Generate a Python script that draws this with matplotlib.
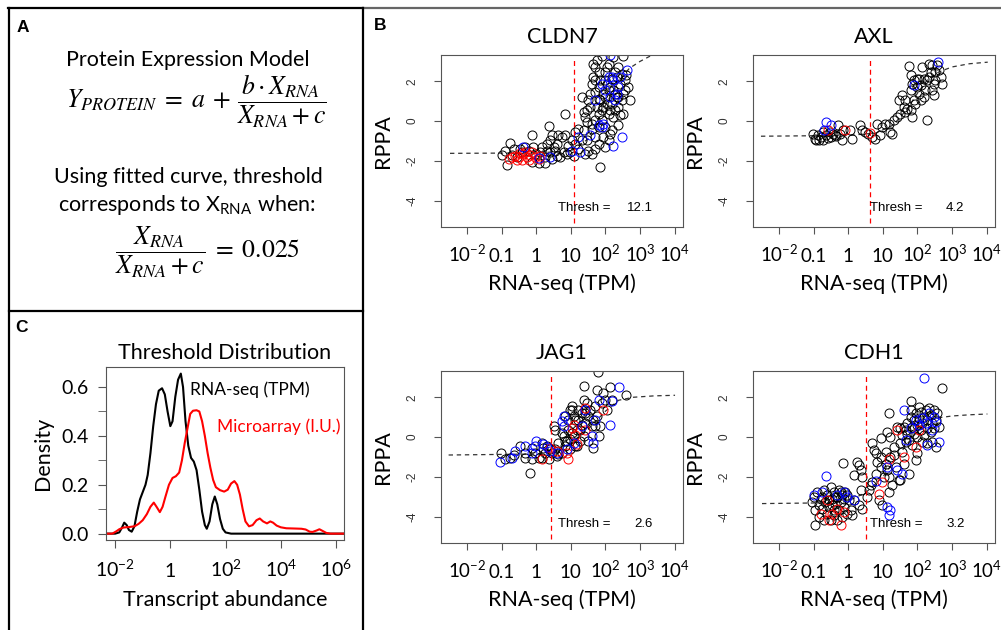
import numpy as np
import matplotlib
matplotlib.use("Agg")
import matplotlib.pyplot as plt
from matplotlib.lines import Line2D

plt.rcParams["font.family"] = ["Lato", "DejaVu Sans"]
plt.rcParams["mathtext.fontset"] = "stix"
plt.rcParams["axes.unicode_minus"] = False

W, H = 1001, 630


def fx(x):
    return x / W


def fy(y):
    return 1 - y / H


# ---- panel C: threshold density curves (log10 abundance, density) ----
rnaseq_density = [
    (-2.33, 0), (-2.0, 0), (-1.85, 0.005), (-1.75, 0.025), (-1.67, 0.045), (-1.58, 0.035),
    (-1.50, 0.015), (-1.40, 0.008), (-1.30, 0.03), (-1.20, 0.09), (-1.10, 0.14), (-1.00, 0.17),
    (-0.90, 0.20), (-0.82, 0.24), (-0.72, 0.33), (-0.62, 0.44), (-0.52, 0.53), (-0.42, 0.585),
    (-0.30, 0.595), (-0.20, 0.57), (-0.10, 0.50), (0.0, 0.44), (0.08, 0.46), (0.18, 0.56),
    (0.28, 0.63), (0.38, 0.655), (0.46, 0.60), (0.55, 0.46), (0.65, 0.36), (0.75, 0.31),
    (0.85, 0.295), (0.95, 0.26), (1.05, 0.18), (1.15, 0.09), (1.25, 0.035), (1.32, 0.02),
    (1.42, 0.05), (1.52, 0.12), (1.61, 0.152), (1.70, 0.12), (1.80, 0.06), (1.90, 0.02),
    (2.0, 0.005), (2.2, 0.0), (6.29, 0.0),
]
microarray_density = [
    (-2.33, 0), (-2.1, 0.0), (-1.95, 0.01), (-1.85, 0.018), (-1.7, 0.025), (-1.5, 0.027),
    (-1.3, 0.03), (-1.15, 0.04), (-1.0, 0.055), (-0.85, 0.08), (-0.72, 0.11), (-0.6, 0.127),
    (-0.5, 0.11), (-0.38, 0.088), (-0.28, 0.11), (-0.18, 0.15), (-0.05, 0.2), (0.08, 0.228),
    (0.2, 0.235), (0.32, 0.25), (0.42, 0.3), (0.52, 0.37), (0.62, 0.43), (0.72, 0.49),
    (0.82, 0.503), (0.95, 0.505), (1.05, 0.50), (1.15, 0.46), (1.25, 0.40), (1.35, 0.33),
    (1.45, 0.27), (1.55, 0.22), (1.65, 0.19), (1.80, 0.178), (1.95, 0.172), (2.08, 0.18),
    (2.2, 0.205), (2.32, 0.215), (2.42, 0.2), (2.52, 0.16), (2.62, 0.10), (2.72, 0.05),
    (2.85, 0.03), (2.98, 0.035), (3.12, 0.055), (3.24, 0.062), (3.36, 0.05), (3.5, 0.042),
    (3.62, 0.05), (3.72, 0.045), (3.85, 0.033), (4.0, 0.026), (4.2, 0.022), (4.5, 0.021),
    (4.75, 0.02), (4.9, 0.017), (5.05, 0.008), (5.15, 0.007), (5.3, 0.013), (5.4, 0.018),
    (5.5, 0.012), (5.65, 0.003), (5.8, 0.0), (6.29, 0.0),
]

# ---- panel B: scatter data (log10 TPM, RPPA) ----
genes = ["CLDN7", "AXL", "JAG1", "CDH1"]
thresholds = [12.1, 4.2, 2.6, 3.2]

cldn7_black = [
    (-0.99, -1.70), (-0.85, -2.22), (-0.75, -1.11), (-0.89, -1.48), (-0.65, -1.39), (-0.56, -1.82),
    (-0.41, -1.56), (-0.32, -1.31), (-0.13, -0.69), (-0.03, -1.65), (0.12, -1.56), (0.26, -1.82),
    (0.36, -0.27), (0.40, -0.97), (0.45, -0.72), (0.50, -1.31), (0.60, -1.14), (0.64, -0.72),
    (0.74, -0.81), (0.84, 0.37), (0.84, -0.72), (0.69, -1.82), (0.60, -1.73), (0.26, -2.12),
    (0.45, -1.90), (0.93, -1.23), (1.03, -0.97), (0.98, -1.56), (1.08, -1.73), (1.22, -1.39),
    (1.32, -0.97), (1.37, -0.47), (1.46, -0.97), (1.51, -1.48), (1.61, -1.65), (1.70, -1.39),
    (1.80, -1.14), (1.85, -2.32), (1.99, -1.31), (2.09, -0.97), (2.13, -0.64), (1.94, -0.81),
    (1.70, -0.81), (-0.70, -1.68), (-0.46, -1.39), (-0.22, -1.48), (-0.08, -1.31), (0.16, -1.31),
    (0.31, -1.48), (0.55, -1.48), (0.79, -1.56), (0.88, -1.65), (1.13, -1.14), (1.41, -1.65),
    (0.31, -1.14), (0.40, -1.56), (0.07, -2.12), (-0.13, -2.07), (1.22, -0.39), (1.13, -0.55),
    (1.41, 0.20), (1.46, 0.54), (1.51, 1.04), (1.56, 1.38), (1.61, 1.88), (1.65, 2.22),
    (1.70, 2.72), (1.75, 3.06), (1.80, 1.71), (1.85, 1.04), (1.89, 0.54), (1.94, 1.38),
    (1.99, 2.05), (2.04, 2.72), (2.09, 2.89), (2.13, 1.71), (2.18, 0.87), (2.23, 0.20),
    (2.28, 1.38), (2.33, 2.22), (2.37, 2.72), (2.42, 1.88), (2.47, 1.04), (2.52, 0.37),
    (2.57, 2.05), (2.59, 2.30), (2.66, 1.71), (2.37, 0.71), (2.09, 0.37), (1.80, 0.37),
    (1.70, 0.03), (1.61, -0.13), (1.89, 0.03), (1.99, -0.30), (2.18, -0.47), (2.37, -0.22),
    (1.65, 2.89), (1.89, 3.28), (2.23, 3.23), (2.52, 3.28), (1.99, 2.47), (2.28, 2.47),
    (1.80, 2.47), (1.70, 1.46), (2.04, 0.87), (2.33, 1.21), (2.47, 2.39), (2.57, 1.55),
    (2.71, 1.04), (1.80, -0.30), (1.61, -0.39), (1.99, 1.21), (2.18, 2.13), (1.85, 2.05),
    (2.09, 1.55), (1.75, 0.71), (1.94, 0.71), (2.13, 0.54), (2.28, 0.54), (2.42, 0.29),
    (1.56, 0.71), (1.80, 1.13), (2.23, 1.55), (2.37, 1.21), (2.52, 1.38), (2.04, 1.88),
    (1.70, 2.05), (1.46, -0.05), (1.37, 0.45), (1.32, 1.21),
]
cldn7_red = [
    (-0.80, -1.90), (-0.61, -1.73), (-0.51, -1.82), (-0.46, -1.61), (-0.37, -1.65), (-0.27, -1.82),
    (-0.17, -1.68), (-0.13, -1.56), (-0.03, -1.78), (0.07, -1.90), (-0.56, -1.95), (-0.41, -1.95),
    (-0.32, -1.56), (0.12, -1.73), (-0.70, -1.82), (-0.22, -1.95),
]
cldn7_blue = [
    (-0.37, -1.31), (0.07, -1.85), (0.40, -1.82), (1.03, -1.51), (1.27, -1.56), (1.22, -0.81),
    (1.56, -0.72), (1.89, 1.88), (1.99, 1.55), (2.13, 1.21), (2.23, 2.05), (2.33, 1.38),
    (2.42, 2.22), (2.09, 2.22), (2.28, 1.04), (2.37, 1.71), (1.70, 1.04), (1.80, -0.22),
    (1.89, -0.30), (1.94, -0.13), (2.18, 2.22), (2.62, 2.55), (2.47, -0.81), (2.23, -1.23),
    (2.13, 3.31),
]
cldn7_curve = [(-2.49, -1.62), (0.0, -1.6), (1.0, -1.5), (1.5, -0.9), (2.0, 0.8), (2.4, 2.05),
               (2.69, 2.65), (3.0, 3.0), (3.35, 3.32), (3.6, 3.5)]

axl_black = [
    (-1.02, -0.64), (-0.97, -0.89), (-0.92, -0.97), (-0.87, -0.72), (-0.83, -0.97), (-0.78, -0.81),
    (-0.73, -0.94), (-0.63, -0.72), (-0.58, -0.84), (-0.53, -0.55), (-0.49, -0.81), (-0.44, -0.64),
    (-0.39, -0.72), (-0.34, -0.77), (-0.29, -0.22), (-0.24, -0.64), (-0.19, -0.97), (-0.15, -0.47),
    (0.05, -0.47), (0.10, -0.89), (0.34, -0.22), (0.39, -0.47), (0.49, -0.55), (0.58, -0.64),
    (0.68, -0.81), (0.83, -0.13), (0.78, -0.89), (0.92, -0.72), (0.97, -0.30), (1.07, -0.13),
    (1.17, -0.13), (1.21, -0.55), (1.26, -0.64), (1.31, 0.03), (1.41, 0.20), (1.46, 1.04),
    (1.50, 0.37), (1.55, 1.29), (1.60, 0.71), (1.65, 0.45), (1.70, 0.62), (1.75, 2.76),
    (1.80, 2.30), (1.80, 1.55), (1.84, 0.20), (1.89, 2.07), (1.94, 0.87), (1.99, 1.71),
    (2.04, 1.38), (2.09, 1.04), (2.14, 2.72), (2.18, 1.21), (2.23, 1.55), (2.28, 0.03),
    (2.33, 2.22), (2.38, 2.47), (2.43, 1.55), (2.48, 1.88), (2.52, 2.05), (2.57, 2.81),
    (2.62, 2.55), (2.67, 2.22), (2.72, 1.88), (2.48, 1.29), (2.33, 2.89), (2.09, 1.80),
    (1.89, 1.04), (1.80, 0.54), (1.65, 1.08), (1.99, 2.13), (2.18, 2.13), (2.43, 2.81),
    (2.52, 2.47), (2.28, 2.05), (1.84, 1.88), (2.04, 2.13), (-0.73, -0.55),
]
axl_red = [(-0.58, -0.47), (-0.10, -0.47), (0.63, -0.61)]
axl_blue = [(-0.63, -0.05), (-0.49, -0.22), (-0.71, -0.47), (1.89, 1.80), (2.59, 2.97)]
axl_curve = [(-2.52, -0.76), (0.0, -0.72), (0.8, -0.6), (1.3, -0.2), (1.7, 0.6), (2.0, 1.4),
             (2.3, 2.1), (2.62, 2.47), (3.0, 2.72), (3.5, 2.88), (4.03, 2.96)]

jag1_black = [
    (-1.01, -0.82), (-0.89, -1.12), (-0.75, -1.03), (-0.65, -0.90), (-0.46, -0.45), (-0.32, -0.78),
    (-0.17, -1.78), (-0.13, -1.12), (-0.03, -0.78), (0.07, -1.03), (0.16, -0.28), (0.26, -0.78),
    (0.31, -0.45), (0.36, -1.12), (0.40, -0.62), (0.50, 0.55), (0.55, 0.38), (0.60, -0.95),
    (0.64, -0.28), (0.74, -0.78), (0.79, 0.05), (0.84, -0.45), (0.88, -0.20), (0.93, 0.38),
    (0.98, 1.38), (0.98, -0.62), (1.03, 1.55), (1.08, 0.05), (1.13, 0.88), (1.17, -0.45),
    (1.22, 1.38), (1.27, 0.38), (1.32, 1.22), (1.37, 0.05), (1.38, 2.58), (1.41, 0.72),
    (1.46, 1.72), (1.51, -0.20), (1.56, 1.38), (1.61, 0.55), (1.63, -0.53), (1.70, 1.55),
    (1.75, 2.38), (1.78, 3.27), (1.80, 0.05), (1.85, 0.55), (1.89, 1.72), (1.94, 2.22),
    (1.99, 1.88), (2.04, 1.38), (2.13, 2.52), (2.18, 1.88), (2.60, 2.10), (0.84, 1.05),
    (0.93, 0.88), (1.08, 1.05), (1.22, 0.88), (1.41, 1.22), (1.51, 1.05), (1.65, 0.88),
    (0.74, 0.22), (0.84, -0.20), (0.98, -0.12), (1.13, -0.45), (1.27, -0.20), (0.55, -0.62),
    (0.45, -0.78), (0.64, -0.87), (1.03, 0.22), (1.17, 0.38), (1.32, 0.63), (1.37, 1.88),
    (1.41, 1.38), (1.03, 1.38), (1.70, 0.55), (1.75, 1.05), (-0.32, -1.03), (-0.13, -0.53),
    (0.16, -1.03), (0.21, -0.53),
]
jag1_red = [
    (0.16, -1.12), (0.93, -1.12), (0.40, -0.53), (0.60, -0.70), (0.88, -0.78), (1.03, 0.47),
    (1.08, 0.63), (1.17, -0.37), (1.41, 1.47), (1.41, 0.38), (1.92, 1.38), (1.13, 0.13),
]
jag1_blue = [
    (-1.04, -1.25), (-0.70, -1.03), (-0.61, -0.70), (-0.32, -0.45), (-0.13, -0.78), (0.00, -0.20),
    (0.21, -0.37), (0.31, -0.48), (0.40, -0.70), (0.60, -0.78), (0.74, 0.80), (0.79, 0.55),
    (0.88, -0.62), (1.08, -0.28), (1.32, 0.55), (1.41, 1.38), (1.61, 0.05), (1.65, -0.28),
    (1.70, 0.88), (1.80, 1.88), (2.13, 0.63), (2.18, 1.80), (2.38, 2.52), (0.79, 1.05),
    (-0.03, -0.45),
]
jag1_curve = [(-2.53, -0.9), (0.0, -0.85), (0.5, -0.7), (1.0, -0.3), (1.5, 0.4), (2.0, 1.3),
              (2.38, 1.85), (2.8, 2.0), (3.4, 2.07), (4.01, 2.1)]

cdh1_black = [
    (-1.04, -3.26), (-0.99, -3.01), (-0.95, -3.68), (-0.95, -4.44), (-0.90, -2.76), (-0.85, -3.43),
    (-0.80, -3.09), (-0.75, -3.60), (-0.70, -2.67), (-0.66, -3.26), (-0.61, -2.92), (-0.61, -3.85),
    (-0.56, -3.51), (-0.51, -2.50), (-0.51, -4.18), (-0.46, -3.09), (-0.41, -2.76), (-0.41, -3.68),
    (-0.37, -3.34), (-0.32, -3.01), (-0.32, -4.18), (-0.27, -2.67), (-0.27, -3.68), (-0.22, -3.26),
    (-0.17, -2.92), (-0.17, -4.02), (-0.13, -3.51), (-0.08, -2.76), (-0.03, -3.85), (0.02, -3.18),
    (0.07, -3.68), (0.12, -3.93), (0.16, -3.18), (-0.75, -3.01), (-0.56, -3.18), (-0.46, -3.43),
    (-0.37, -3.01), (-0.22, -2.76), (-0.13, -3.09), (-0.03, -2.92), (-0.85, -4.02), (-0.70, -4.18),
    (-0.41, -3.93),
    (-0.14, -1.28), (0.16, -1.92), (0.26, -1.24), (0.31, -1.41), (0.36, -1.66), (0.41, -2.00),
    (0.31, -3.43), (0.41, -3.60), (0.36, -2.67), (0.55, -3.01), (0.60, -2.67), (0.65, -2.42),
    (0.69, -0.32), (0.74, -0.66), (0.79, -0.82), (0.89, -3.18), (0.94, -0.99), (0.94, -0.07),
    (0.98, -3.43), (1.03, -2.00), (1.08, -1.33), (1.13, 0.27), (1.18, 1.19), (1.18, -2.00),
    (1.22, 0.02), (1.22, -0.99), (1.27, -2.42), (1.32, -0.91), (1.37, -1.50), (1.42, 0.52),
    (1.47, -2.17), (1.51, -2.17), (1.51, -0.32), (1.56, -0.74), (1.61, -1.33), (1.66, -0.24),
    (1.76, -1.83), (1.80, 1.83), (1.90, 0.44), (1.95, -1.16), (2.00, -0.82), (1.08, -0.74),
    (1.13, -1.66), (1.18, -2.76), (1.51, 0.44), (1.56, 0.10), (1.66, 0.35), (1.32, -0.49),
    (0.94, -1.50), (0.84, -1.24), (0.79, -1.83), (0.69, -2.25),
    (1.71, 0.69), (1.80, 1.03), (1.85, 0.52), (1.90, 0.86), (1.95, 1.19), (2.00, 0.61),
    (2.04, 0.94), (2.09, 1.28), (2.14, 0.69), (2.19, 1.03), (2.24, 1.36), (2.29, 0.86),
    (2.33, 1.45), (2.38, 1.11), (2.43, 0.69), (2.48, 1.36), (2.53, 0.86), (2.57, 1.19),
    (2.62, 0.52), (2.53, -0.49), (1.90, 0.18), (2.00, 0.02), (2.09, 0.35), (2.19, 0.10),
    (2.29, 0.44), (2.38, 0.27), (2.48, 0.44), (2.72, 2.45), (1.80, 1.36), (1.71, 0.18),
    (1.76, -0.15), (1.85, -0.40), (2.14, -0.24), (2.29, -0.32), (2.43, -0.24), (2.04, 1.53),
    (1.61, 0.52),
]
cdh1_red = [
    (-0.80, -3.85), (-0.56, -4.18), (-0.22, -4.44), (-0.32, -3.60), (-0.13, -3.76), (-0.61, -3.18),
    (0.89, -2.84), (0.98, -2.25), (1.18, -1.08), (1.42, 0.35), (1.61, -0.99), (1.95, -0.49),
    (2.04, 0.35), (-0.46, -3.85),
]
cdh1_blue = [
    (-0.99, -2.92), (-0.64, -1.95), (-0.75, -2.76), (-0.32, -2.92), (-0.13, -2.76), (-0.03, -3.01),
    (0.16, -3.18), (0.79, -2.20), (1.13, -1.50), (1.13, -3.51), (1.22, -3.68), (1.18, -3.93),
    (1.42, -1.66), (1.56, -1.83), (1.61, 1.36), (1.66, -0.15), (1.80, 0.44), (1.95, 0.86),
    (2.04, 0.61), (2.14, 0.94), (2.19, 2.96), (2.24, 0.69), (2.29, -0.40), (2.33, 1.19),
    (2.43, 0.35), (2.53, 0.77), (2.62, -0.24), (2.48, 1.03),
]
cdh1_curve = [(-2.49, -3.34), (-0.5, -3.3), (0.0, -3.2), (0.5, -2.8), (1.0, -2.0), (1.5, -0.8),
              (2.0, 0.3), (2.48, 0.94), (3.0, 1.06), (3.5, 1.12), (4.02, 1.16)]

scatter_sets = {
    "CLDN7": (cldn7_black, cldn7_red, cldn7_blue, cldn7_curve),
    "AXL": (axl_black, axl_red, axl_blue, axl_curve),
    "JAG1": (jag1_black, jag1_red, jag1_blue, jag1_curve),
    "CDH1": (cdh1_black, cdh1_red, cdh1_blue, cdh1_curve),
}

x_tick_pos = [1e-2, 1e-1, 1, 10, 1e2, 1e3, 1e4]
x_tick_lab = [r"$\mathregular{10^{-2}}$", "0.1", "1", "10",
              r"$\mathregular{10^{2}}$", r"$\mathregular{10^{3}}$", r"$\mathregular{10^{4}}$"]
y_tick_pos = [-4, -2, 0, 2]

c_tick_pos = [1e-2, 1, 1e2, 1e4, 1e6]
c_tick_lab = [r"$\mathregular{10^{-2}}$", "1", r"$\mathregular{10^{2}}$",
              r"$\mathregular{10^{4}}$", r"$\mathregular{10^{6}}$"]

AX_GRAY = "#555555"
R_FONT = "Liberation Sans"

fig = plt.figure(figsize=(W / 100, H / 100), dpi=100)

# frame lines
frame = [
    ((8, 363), (8, 8), "black"), ((363, 1001), (8, 8), "#666666"),
    ((9, 9), (8, 630), "black"), ((363, 363), (8, 630), "black"),
    ((9, 363), (311, 311), "black"),
]
for xs, ys, col in frame:
    fig.add_artist(Line2D([fx(v) for v in xs], [fy(v) for v in ys], color=col, lw=1.6))

# panel letters
for lab, (x, y) in zip("ABC", [(23, 28), (380, 25), (22, 327)]):
    fig.text(fx(x), fy(y), lab, family=R_FONT, weight="bold", fontsize=12.5,
             ha="center", va="center")

# ---- panel A ----
fig.text(fx(188), fy(60), "Protein Expression Model", fontsize=15.5, ha="center", va="center")
fig.text(fx(196), fy(101),
         r"$Y_{PROTEIN}\;=\;a\;+\,\dfrac{b\cdot X_{RNA}}{X_{RNA} + c}$",
         fontsize=18.5, ha="center", va="center")
fig.text(fx(188), fy(177), "Using fitted curve, threshold", fontsize=15.5, ha="center", va="center")
fig.text(fx(187), fy(205), r"corresponds to X$_{\mathregular{RNA}}$ when:", fontsize=15.5,
         ha="center", va="center")
fig.text(fx(208), fy(252), r"$\dfrac{X_{RNA}}{X_{RNA} + c}\;=\;0.025$",
         fontsize=18.5, ha="center", va="center")

# ---- panel C ----
axc = fig.add_axes([fx(106), fy(540), (344 - 106) / W, (540 - 367) / H])
for pts, col in [(rnaseq_density, "black"), (microarray_density, "red")]:
    arr = np.array(pts)
    axc.plot(10 ** arr[:, 0], arr[:, 1], color=col, lw=1.5)
axc.set_xscale("log")
axc.set_xlim(10 ** -2.33, 10 ** 6.29)
axc.set_ylim(-0.026, 0.682)
axc.set_xticks(c_tick_pos)
axc.set_xticklabels(c_tick_lab, va="baseline")
axc.xaxis.set_minor_locator(matplotlib.ticker.NullLocator())
axc.set_yticks([0, 0.2, 0.4, 0.6])
axc.set_yticklabels(["0.0", "0.2", "0.4", "0.6"])
axc.set_yticks([0.1, 0.3, 0.5], minor=True)
axc.tick_params(axis="both", which="both", length=5.5, color=AX_GRAY, labelsize=14)
axc.tick_params(axis="x", pad=21)
axc.tick_params(axis="y", pad=7)
for sp in axc.spines.values():
    sp.set_color(AX_GRAY)
axc.set_title("Threshold Distribution", fontsize=15.5, pad=6)
axc.set_xlabel("Transcript abundance", fontsize=15.5, labelpad=7)
axc.set_ylabel("Density", fontsize=15.5, labelpad=6)
fig.text(fx(190), fy(390), "RNA-seq (TPM)", fontsize=12.5, va="center")
fig.text(fx(217), fy(427), "Microarray (I.U.)", fontsize=12.5, va="center", color="red")

# ---- panel B ----
rects = {
    "CLDN7": (441, 227), "AXL": (753, 227),
    "JAG1": (441, 543), "CDH1": (753, 543),
}
for gene, thresh in zip(genes, thresholds):
    left, bottom = rects[gene]
    ax = fig.add_axes([fx(left), fy(bottom), 242 / W, 172 / H])
    black, red, blue, curve = scatter_sets[gene]
    cv = np.array(curve)
    ax.plot(10 ** cv[:, 0], cv[:, 1], color="#333333", lw=0.9, ls=(0, (3.5, 3)))
    for pts, col in [(black, "black"), (red, "red"), (blue, "blue")]:
        arr = np.array(pts)
        ax.plot(10 ** arr[:, 0], arr[:, 1], ls="none", marker="o", ms=6.5,
                mfc="none", mec=col, mew=0.7)
    ax.plot([thresh, thresh], [-5.1, 3.05], color="red", lw=0.9, ls=(0, (4, 3)))
    ax.text(10 ** 0.64, -4.35, "Thresh =", family=R_FONT, fontsize=9.5, va="center")
    ax.text(10 ** 3.36, -4.35, f"{thresh}", family=R_FONT, fontsize=9.5, va="center", ha="right")
    ax.set_xscale("log")
    ax.set_xlim(10 ** -2.75, 10 ** 4.24)
    ax.set_ylim(-5.32, 3.32)
    ax.set_xticks(x_tick_pos)
    ax.set_xticklabels(x_tick_lab, va="baseline")
    ax.xaxis.set_minor_locator(matplotlib.ticker.NullLocator())
    ax.set_yticks(y_tick_pos)
    ax.set_yticklabels([str(v) for v in y_tick_pos], rotation=90, va="center",
                       family=R_FONT, fontsize=8.5, color="#333333")
    ax.tick_params(axis="both", length=5, color=AX_GRAY)
    ax.tick_params(axis="x", labelsize=13.5, pad=20)
    ax.tick_params(axis="y", pad=11)
    for sp in ax.spines.values():
        sp.set_color(AX_GRAY)
    ax.set_title(gene, fontsize=15.5, pad=9)
    ax.set_xlabel("RNA-seq (TPM)", fontsize=15.5, labelpad=6)
    ax.set_ylabel("RPPA", fontsize=15.5, labelpad=10)

fig.savefig("out.png", dpi=100)
